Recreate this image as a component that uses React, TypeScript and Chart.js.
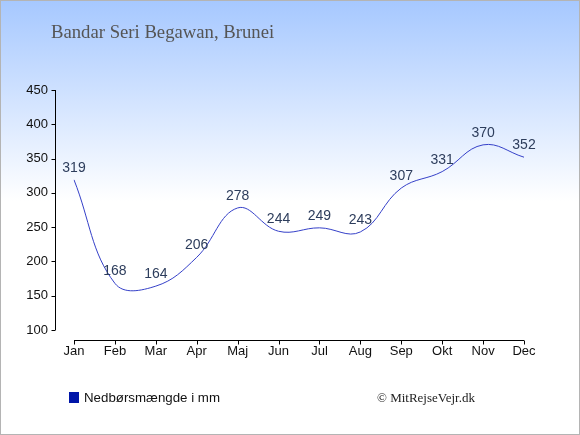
import { useEffect, useRef } from 'react';
import { Chart, registerables } from 'chart.js';

Chart.register(...registerables);

const months = ['Jan', 'Feb', 'Mar', 'Apr', 'Maj', 'Jun', 'Jul', 'Aug', 'Sep', 'Okt', 'Nov', 'Dec'];
const rainfall = [319, 168, 164, 206, 278, 244, 249, 243, 307, 331, 370, 352];
const yTicks = [100, 150, 200, 250, 300, 350, 400, 450];

const title = 'Bandar Seri Begawan, Brunei';
const legendLabel = 'Nedbørsmængde i mm';
const credit = '© MitRejseVejr.dk';

export default function App() {
  const canvasRef = useRef<HTMLCanvasElement | null>(null);

  useEffect(() => {
    document.body.style.margin = '0';
    if (!canvasRef.current) return;

    const chart = new Chart(canvasRef.current, {
      type: 'line',
      data: {
        labels: months,
        datasets: [
          {
            label: legendLabel,
            data: rainfall,
            borderColor: '#3540c8',
            borderWidth: 1,
            pointRadius: 0,
            tension: 0.4,
            fill: false,
          },
        ],
      },
      options: {
        responsive: false,
        maintainAspectRatio: false,
        animation: false,
        layout: { padding: { left: 0, right: 56, top: 90, bottom: 75 } },
        plugins: {
          legend: { display: false },
          tooltip: { enabled: false },
        },
        scales: {
          x: {
            offset: false,
            grid: { display: true, drawOnChartArea: false, drawTicks: false, color: 'transparent' },
            border: { display: false },
            ticks: {
              padding: 14,
              color: '#111',
              font: { family: 'Liberation Sans, Arial, sans-serif', size: 13 },
              maxRotation: 0,
              autoSkip: false,
            },
            afterFit: (scale) => {
              scale.height = 30;
            },
          },
          y: {
            min: 100,
            max: 450,
            grid: { display: true, drawOnChartArea: false, drawTicks: false, color: 'transparent' },
            border: { display: false },
            ticks: {
              padding: 26,
              color: '#111',
              font: { family: 'Liberation Sans, Arial, sans-serif', size: 13 },
            },
            afterBuildTicks: (scale) => {
              scale.ticks = yTicks.map((v) => ({ value: v }));
            },
            afterFit: (scale) => {
              scale.width = 74;
            },
          },
        },
      },
      plugins: [
        {
          id: 'axesAndLabels',
          afterDraw(c) {
            const { ctx, scales } = c;
            const xs = scales.x;
            const ys = scales.y;
            ctx.save();
            ctx.strokeStyle = '#000';
            ctx.lineWidth = 1;

            // y axis sits left of the plot, x axis a bit below it
            const axX = 55.5;
            ctx.beginPath();
            ctx.moveTo(axX, ys.getPixelForValue(450));
            ctx.lineTo(axX, ys.getPixelForValue(100));
            yTicks.forEach((v) => {
              const py = Math.round(ys.getPixelForValue(v)) + 0.5;
              ctx.moveTo(axX - 4, py);
              ctx.lineTo(axX, py);
            });
            const axY = 340.5;
            ctx.moveTo(xs.getPixelForValue(0), axY);
            ctx.lineTo(xs.getPixelForValue(months.length - 1), axY);
            months.forEach((_, i) => {
              const px = Math.round(xs.getPixelForValue(i)) + 0.5;
              ctx.moveTo(px, axY);
              ctx.lineTo(px, axY + 4);
            });
            ctx.stroke();

            // value labels above the line
            ctx.fillStyle = '#2d3d5c';
            ctx.font = '14px Liberation Sans, Arial, sans-serif';
            ctx.textAlign = 'center';
            ctx.textBaseline = 'alphabetic';
            rainfall.forEach((v, i) => {
              ctx.fillText(String(v), xs.getPixelForValue(i), ys.getPixelForValue(v) - 8);
            });
            ctx.restore();
          },
        },
      ],
    });

    return () => {
      chart.destroy();
    };
  }, []);

  return (
    <div
      style={{
        position: 'relative',
        width: 580,
        height: 435,
        boxSizing: 'border-box',
        border: '1px solid #b4b4b4',
        background: 'linear-gradient(to bottom, #a6c8ff 0px, #ffffff 200px, #ffffff 100%)',
        overflow: 'hidden',
      }}
    >
      <canvas ref={canvasRef} width={580} height={435} style={{ position: 'absolute', left: -1, top: -1 }} />
      <div
        style={{
          position: 'absolute',
          left: 50,
          top: 20,
          font: '18.7px "Liberation Serif", "Times New Roman", serif',
          color: '#555',
          whiteSpace: 'nowrap',
        }}
      >
        {title}
      </div>
      <div
        style={{
          position: 'absolute',
          left: 68,
          top: 389,
          display: 'flex',
          alignItems: 'center',
          font: '13.3px "Liberation Sans", Arial, sans-serif',
          color: '#111',
          whiteSpace: 'nowrap',
        }}
      >
        <span style={{ display: 'inline-block', width: 10, height: 11, background: '#0015a8', marginRight: 5 }} />
        {legendLabel}
      </div>
      <div
        style={{
          position: 'absolute',
          left: 376,
          top: 389,
          font: '13px "Liberation Serif", "Times New Roman", serif',
          color: '#222',
          whiteSpace: 'nowrap',
        }}
      >
        {credit}
      </div>
    </div>
  );
}
